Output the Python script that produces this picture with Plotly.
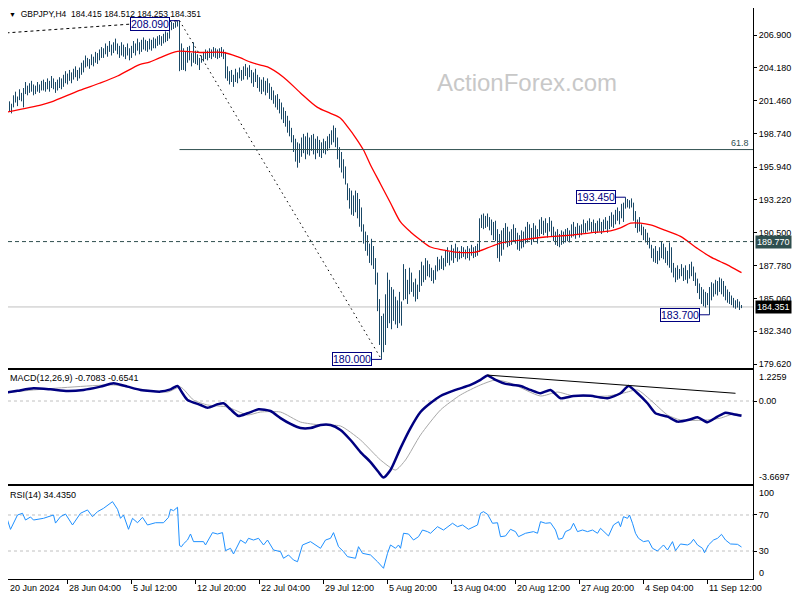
import plotly.graph_objects as go

# ---------------- data ----------------
highs = [
    201.5, 201.3, 201.6, 201.4, 201.2, 201.9, 202.2, 201.8, 202.4, 202.1,
    202.5, 203.0, 202.7, 202.9, 203.1, 202.8, 202.7, 203.0, 202.8, 203.1,
    203.2, 203.0, 203.3, 203.1, 203.5, 203.3, 203.0, 203.2, 203.4, 203.3,
    203.6, 203.9, 203.7, 204.0, 203.8, 204.1, 204.3, 204.0, 204.2, 204.6,
    204.8, 205.2, 205.0, 204.9, 205.3, 205.1, 205.5, 205.4, 205.7, 205.9,
    205.8, 206.2, 206.0, 206.4, 206.1, 206.3, 206.6, 206.2, 206.0, 206.3,
    206.1, 205.9, 206.2, 205.8, 206.0, 206.4, 206.2, 206.6, 206.3, 206.5,
    206.7, 206.5, 206.4, 206.6, 206.5, 206.7, 206.6, 206.8, 206.9, 206.8,
    207.0, 207.2, 207.1, 208.0, 208.0, 207.9, 208.0, 208.05, 208.09, 206.2,
    205.8, 205.5, 205.9, 206.0, 205.4, 206.3, 205.6, 205.3, 205.0, 205.2,
    205.5, 205.7, 205.6, 205.8, 205.7, 205.9, 205.8, 205.7, 205.8, 205.9,
    205.7, 205.5, 204.3, 203.9, 204.0, 203.6, 204.1, 203.8, 204.2, 204.0,
    204.3, 204.5, 204.2, 204.4, 204.0, 203.8, 204.1, 203.6, 203.4, 203.2,
    203.4, 203.1, 203.3, 202.9, 202.6, 202.3, 201.9, 202.0, 201.6, 201.3,
    200.9, 200.6, 200.2, 199.8, 199.2, 198.6, 198.3, 198.0, 197.9, 198.4,
    198.7, 198.5, 198.8, 198.4, 198.6, 198.7, 198.3, 198.5, 198.2, 198.0,
    198.3, 198.1, 198.5, 198.7, 199.0, 199.4, 199.2, 198.4, 197.6, 197.2,
    196.6, 196.0, 194.6, 194.2, 194.0, 193.6, 194.0, 193.8, 193.3, 192.6,
    191.2, 190.6, 190.3, 189.6, 190.0, 189.4, 188.4, 187.2, 185.0, 183.6,
    183.8, 185.4, 187.2, 186.6, 186.0, 185.8, 185.2, 184.9, 185.6, 184.8,
    187.9, 187.5, 186.6, 187.6, 187.2, 186.4, 186.7, 186.2, 187.4, 188.1,
    187.8, 188.4, 188.2, 187.9, 187.6, 187.4, 187.8, 188.5, 188.3, 188.6,
    188.4, 189.0, 189.3, 188.9, 189.5, 189.2, 189.6, 189.3, 189.0, 189.4,
    189.3, 189.1, 189.4, 189.2, 189.5, 189.3, 189.4, 189.6, 191.7, 192.0,
    192.1, 191.9, 192.1, 191.8, 191.6, 191.4, 191.5, 190.8, 190.4, 190.7,
    190.9, 191.3, 191.0, 190.6, 190.8, 191.2, 190.9, 190.5, 190.3, 190.7,
    190.6, 191.0, 191.4, 191.2, 190.9, 191.3, 191.1, 190.8, 191.6, 191.8,
    191.5, 191.7, 191.3, 191.8, 191.5, 191.0, 190.6, 190.8, 190.4, 190.7,
    190.6, 190.8, 190.9, 190.7, 191.2, 191.4, 191.0, 191.3, 191.1, 191.2,
    191.6, 191.3, 191.5, 191.7, 191.4, 191.6, 191.3, 191.5, 191.7, 191.4,
    191.6, 191.8, 191.5, 191.9, 192.2, 192.0, 192.4, 192.6, 192.3, 192.9,
    193.0, 193.45, 193.3, 193.2, 193.35, 193.0, 192.3, 191.6, 191.8, 191.2,
    191.0, 190.8, 190.5, 190.1, 189.5, 189.2, 189.4, 189.0, 189.3, 189.8,
    189.6, 189.3, 189.0, 189.7, 189.3, 188.0, 187.6, 187.8, 187.5, 187.9,
    187.6, 187.8, 187.4, 187.9, 188.1, 187.7, 187.2, 186.7, 186.3, 186.0,
    185.8, 185.6, 185.5, 186.0, 186.4, 186.3, 186.6, 186.5, 186.8, 186.7,
    186.5, 186.1, 185.8, 185.6, 185.3, 185.1, 184.9, 185.0, 184.8, 184.512,
]
lows = [
    200.6, 200.8, 200.9, 200.6, 200.4, 200.9, 201.3, 201.0, 201.5, 201.4,
    200.9, 202.0, 201.9, 202.1, 202.2, 201.9, 202.0, 202.2, 202.1, 202.3,
    202.3, 202.2, 202.4, 202.2, 202.5, 202.4, 202.1, 202.3, 202.5, 202.4,
    202.6, 202.9, 202.8, 203.1, 202.9, 203.2, 203.4, 203.1, 203.3, 203.6,
    203.8, 204.2, 204.3, 204.1, 204.4, 204.3, 204.6, 204.5, 204.8, 205.0,
    205.0, 205.3, 205.1, 205.5, 205.2, 205.4, 205.6, 205.3, 205.0, 205.2,
    205.1, 204.9, 205.2, 204.8, 205.0, 205.4, 205.2, 205.6, 205.3, 205.5,
    205.7, 205.6, 205.5, 205.7, 205.6, 205.8, 205.8, 206.0, 206.1, 206.0,
    206.2, 206.3, 206.4, 206.6, 207.3, 207.4, 207.5, 207.6, 203.9, 204.0,
    204.0, 203.9, 204.6, 204.8, 204.3, 204.6, 204.5, 204.4, 204.0, 204.6,
    204.7, 204.9, 204.8, 205.0, 204.9, 205.1, 205.0, 204.9, 205.0, 205.1,
    204.9, 203.3, 203.1, 202.8, 203.0, 202.6, 203.0, 202.9, 203.3, 203.1,
    203.2, 203.5, 203.2, 203.4, 202.9, 202.6, 203.0, 202.5, 202.2, 202.0,
    202.2, 201.9, 202.1, 201.6, 201.5, 201.2, 200.9, 200.7, 200.4, 199.9,
    199.6, 199.3, 198.8, 198.5, 198.0, 197.2, 196.4, 195.9, 196.3, 196.8,
    197.1, 196.6, 197.0, 196.9, 197.3, 197.0, 196.6, 197.1, 196.8, 196.7,
    197.1, 197.0, 197.3, 197.5, 197.8, 198.0, 197.6, 196.6, 195.9, 195.5,
    195.0, 194.5, 193.2, 192.5, 192.0, 191.9, 192.2, 191.7, 191.0, 190.6,
    189.6, 189.0, 188.6, 188.0, 187.8, 187.5, 186.2, 184.0, 181.2, 180.0,
    180.6, 181.2, 182.6, 183.0, 182.5, 183.2, 182.9, 182.6, 183.0, 182.8,
    184.9, 185.0, 184.6, 185.4, 185.6, 185.2, 184.8, 185.0, 185.6, 186.1,
    186.4, 186.6, 186.9, 186.8, 186.5, 186.3, 186.6, 187.3, 187.4, 187.5,
    187.4, 187.7, 188.0, 187.8, 188.2, 188.0, 188.4, 188.1, 188.3, 188.4,
    188.5, 188.3, 188.4, 188.2, 188.6, 188.4, 188.5, 188.6, 188.9, 190.9,
    190.8, 190.9, 191.0, 190.7, 190.3, 189.9, 189.8, 188.4, 188.1, 188.6,
    189.1, 189.6, 189.3, 189.4, 189.5, 189.8, 189.6, 189.1, 189.0, 189.2,
    189.3, 189.6, 189.7, 189.9, 189.5, 189.8, 190.0, 189.6, 190.2, 190.4,
    190.3, 190.5, 190.1, 190.6, 190.2, 189.8, 189.5, 189.4, 189.3, 189.5,
    189.6, 189.7, 189.8, 189.7, 190.1, 190.2, 190.0, 190.3, 190.1, 190.3,
    190.5, 190.4, 190.6, 190.7, 190.5, 190.6, 190.4, 190.5, 190.6, 190.4,
    190.6, 190.8, 190.5, 190.8, 191.0, 190.9, 191.2, 191.5, 191.2, 191.7,
    191.4, 192.5, 192.6, 192.5, 192.6, 191.5, 190.9, 190.5, 190.6, 190.3,
    189.9, 189.7, 189.5, 189.2, 188.4, 188.1, 188.0, 187.9, 188.2, 188.4,
    188.3, 188.0, 187.8, 187.6, 187.2, 186.8, 186.4, 186.6, 186.7, 186.9,
    186.5, 186.6, 186.3, 186.7, 186.9, 186.5, 186.1, 185.5, 185.0, 184.6,
    184.4, 184.3, 184.5, 183.7, 184.9, 185.2, 185.4, 185.3, 185.6, 185.4,
    185.2, 184.9, 184.7, 184.6, 184.5, 184.3, 184.2, 184.3, 184.1, 184.253,
]

ma_idx = [0, 19, 24, 38, 48, 57, 68, 73, 78, 87,
          98.5, 110, 117, 123.5, 128.5, 132, 140, 148.5, 157, 163.5,
          168.5, 172, 176, 180, 183.5, 188.5, 193.5, 198.5, 203.5, 208.5,
          213.5, 220, 226, 236, 242, 248.5, 258.5, 271, 283.5, 293.5,
          303.5, 308.5, 313.5, 318.5, 323.5, 331, 338.5, 347, 353.5, 358.5,
          363.5, 369]
ma_val = [200.45, 201.1, 201.35, 202.3, 202.9, 203.5, 204.45, 204.65, 205.0, 205.55,
          205.45, 205.45, 205.1, 204.65, 204.4, 204.25, 203.4, 202.1, 200.9, 200.4,
          200.0, 199.3, 198.4, 197.36, 196.12, 194.55, 192.97, 191.4, 190.57, 189.9,
          189.32, 189.07, 188.9, 188.9, 189.24, 189.65, 189.9, 190.15, 190.3, 190.5,
          190.65, 190.9, 191.3, 191.3, 191.15, 190.7, 190.2, 189.2, 188.5, 188.1,
          187.7, 187.2]

macd_idx = [0, 7, 15, 23.5, 32, 40, 48.5, 55, 62, 68.5,
            78.5, 83.5, 87, 89.5, 92, 98.5, 102, 107, 110, 113.5,
            117.5, 122, 127.5, 133.5, 138.5, 143.5, 148.5, 153.5, 158.5, 163.5,
            168.5, 173.5, 178.5, 183.5, 187.5, 190, 193.5, 198.5, 203.5, 208.5,
            213.5, 218.5, 226, 233.5, 238.5, 242, 246, 251, 258.5, 263.5,
            268.5, 273.5, 278.5, 285, 293.5, 302, 308.5, 312.5, 317, 322,
            326, 332, 337, 343.5, 347, 352, 357, 361, 365, 369]
macd_val = [0.38, 0.49, 0.61, 0.56, 0.48, 0.53, 0.69, 0.85, 0.69, 0.53,
            0.45, 0.56, 0.72, 0.37, 0.05, -0.19, -0.32, -0.16, -0.11, -0.40,
            -0.72, -0.59, -0.40, -0.48, -0.82, -1.10, -1.30, -1.30, -1.15, -1.15,
            -1.39, -1.87, -2.45, -2.93, -3.41, -3.67, -3.31, -2.26, -1.30, -0.53,
            -0.10, 0.24, 0.53, 0.77, 1.01, 1.2259, 1.01, 0.82, 0.72, 0.53,
            0.37, 0.53, 0.13, 0.24, 0.25, 0.13, 0.37, 0.72, 0.37, -0.11,
            -0.59, -0.75, -0.99, -0.88, -0.78, -1.02, -0.75, -0.56, -0.64, -0.7083]

sig_idx = [0, 15, 55, 65, 82, 88.5, 95, 102, 112, 122,
           128.5, 138.5, 148.5, 158.5, 168.5, 178.5, 188.5, 196, 201, 208.5,
           218.5, 228.5, 238.5, 246, 253.5, 268.5, 277, 285, 302, 310,
           317, 323.5, 332, 338.5, 352, 358.5, 365, 369]
sig_val = [0.38, 0.53, 0.77, 0.62, 0.43, 0.67, 0.05, -0.19, -0.29, -0.67,
           -0.53, -0.53, -1.01, -1.15, -1.20, -1.87, -2.83, -3.31, -2.83, -1.63,
           -0.43, 0.29, 0.77, 1.01, 0.86, 0.24, 0.43, 0.24, 0.24, 0.38,
           0.53, 0.05, -0.67, -0.91, -0.91, -0.82, -0.62, -0.6541]

rsi_idx = [0, 2, 3.5, 5, 7, 9.5, 11, 13.5, 15, 20,
           25, 26, 28.5, 31, 34.5, 38.5, 42, 44.5, 47, 50,
           54.5, 57, 58.5, 60, 62.5, 64.5, 67, 69.5, 72, 76,
           80, 82.5, 83.5, 85, 87, 88, 89, 90, 92, 93.5,
           95, 100, 101, 104.5, 107, 109.5, 111, 113.5, 115, 118.5,
           121, 122.5, 125, 127.5, 130, 132, 135, 138.5, 140, 142.5,
           145, 147, 149.5, 153.5, 156, 158.5, 161, 163.5, 165, 167.5,
           170, 172, 176, 177.5, 179.5, 183.5, 187, 190, 192, 193.5,
           196, 197.5, 198.5, 200, 202.5, 205, 207.5, 209.5, 212, 213.5,
           217, 220, 224.5, 227, 229.5, 232.5, 237, 238.5, 240, 242,
           244.5, 247, 248.5, 251, 253.5, 256, 257.5, 261, 265, 267,
           268.5, 271, 273.5, 276, 277.5, 279.5, 281, 283.5, 285, 287,
           289.5, 292, 294.5, 297, 298.5, 301, 302.5, 305, 307.5, 308.5,
           310, 312, 313, 314.5, 316, 317.5, 320, 322.5, 324.5, 327,
           328.5, 330, 332, 334.5, 336, 338.5, 342, 343.5, 345, 347,
           349.5, 350.5, 352.5, 355, 357, 359, 361, 363.5, 367, 369]
rsi_val = [62.6, 64.4, 54.0, 60.7, 70.0, 71.9, 64.4, 67.8, 64.4, 66.3,
           70.0, 61.0, 68.1, 71.1, 58.9, 71.9, 75.6, 68.1, 73.7, 77.4,
           84.8, 76.3, 66.3, 70.0, 54.1, 66.3, 61.4, 67.4, 58.9, 61.4,
           61.4, 67.4, 76.3, 74.8, 78.6, 36.0, 34.8, 38.0, 42.2, 48.9,
           40.4, 40.4, 36.7, 50.4, 48.9, 50.4, 30.4, 33.0, 26.7, 42.2,
           38.5, 44.1, 42.2, 44.1, 36.7, 42.2, 31.1, 29.3, 21.9, 25.6,
           20.0, 18.1, 36.7, 40.4, 36.7, 33.0, 42.2, 44.1, 50.4, 34.8,
           29.3, 23.7, 21.9, 34.8, 27.4, 25.6, 18.1, 10.8, 27.4, 36.7,
           33.0, 36.7, 33.0, 49.7, 48.9, 42.2, 45.9, 53.3, 51.5, 49.7,
           57.0, 53.3, 60.8, 57.0, 58.9, 54.1, 58.9, 71.9, 73.7, 70.8,
           60.8, 61.4, 45.9, 46.7, 54.1, 51.5, 45.9, 49.7, 51.5, 49.7,
           62.6, 60.8, 61.4, 53.3, 43.0, 44.1, 51.5, 54.1, 60.8, 51.5,
           53.3, 51.5, 53.3, 49.7, 55.2, 49.7, 46.7, 58.9, 62.6, 57.0,
           68.1, 66.3, 70.0, 60.8, 49.7, 44.1, 40.4, 41.5, 33.0, 30.0,
           33.0, 36.7, 31.1, 40.4, 30.4, 37.8, 36.7, 38.5, 43.0, 36.7,
           33.0, 28.1, 36.7, 42.2, 44.1, 48.5, 42.2, 37.8, 37.4, 34.435]

xtick_idx = [0, 32, 64, 96, 128, 160, 192, 224, 256, 288, 320, 352]
xtick_lbl = ["20 Jun 2024", "28 Jun 04:00", "5 Jul 12:00", "12 Jul 20:00",
             "22 Jul 04:00", "29 Jul 12:00", "5 Aug 20:00", "13 Aug 04:00",
             "20 Aug 12:00", "27 Aug 20:00", "4 Sep 04:00", "11 Sep 12:00"]
price_ticks = [206.90, 204.18, 201.46, 198.74, 195.94, 193.22,
               190.50, 187.78, 185.06, 182.34, 179.62]

swing_idx = [88, 311, 353, 189]
swing_price = [208.09, 193.45, 183.70, 180.00]
trend_left_idx, trend_left_val = -1.5, 207.04   # dashed line start (left edge)
fib_level, fib_label = 197.40, "61.8"
res_level = 189.77
last_price = 184.351
macd_trend_idx = [242, 366]
macd_trend_val = [1.243, 0.37]
rsi_levels = [70, 30]
ohlc_text = "184.415 184.512 184.253 184.351"
macd_text = "MACD(12,26,9) -0.7083 -0.6541"
rsi_text = "RSI(14) 34.4350"

# ---------------- figure ----------------
# The page body adds an 8px offset, so the figure is 792x592 and every
# pixel position below is given in page pixels and converted.
OFF = 8
W, H = 800 - OFF, 600 - OFF
FONT = "Liberation Sans, Arial, sans-serif"
BAR = "#1a4866"
SLATE = "#2f4f4f"
NAVY = "#000080"


def px(X):
    return (X - OFF) / W


def py(Y):
    return 1 - (Y - OFF) / H


def vdom(top, bottom):
    return [py(bottom), py(max(top, OFF))]


bx, by = [], []
for i, (hi, lo) in enumerate(zip(highs, lows)):
    bx += [i, i, None]
    by += [lo, hi, None]

fig = go.Figure()
fig.add_trace(go.Scatter(x=bx, y=by, mode="lines", line=dict(color=BAR, width=1),
                         xaxis="x", yaxis="y", hoverinfo="skip"))
fig.add_trace(go.Scatter(x=ma_idx, y=ma_val, mode="lines",
                         line=dict(color="#ff0000", width=1.3, shape="spline", smoothing=0.8),
                         xaxis="x", yaxis="y"))
fig.add_trace(go.Scatter(x=sig_idx, y=sig_val, mode="lines",
                         line=dict(color="#a8a8a8", width=1, shape="spline", smoothing=0.6),
                         xaxis="x2", yaxis="y2"))
fig.add_trace(go.Scatter(x=macd_idx, y=macd_val, mode="lines",
                         line=dict(color=NAVY, width=2.5, shape="spline", smoothing=0.6),
                         xaxis="x2", yaxis="y2"))
fig.add_trace(go.Scatter(x=macd_trend_idx, y=macd_trend_val, mode="lines",
                         line=dict(color="black", width=1), xaxis="x2", yaxis="y2"))
fig.add_trace(go.Scatter(x=rsi_idx, y=rsi_val, mode="lines",
                         line=dict(color="#1e90ff", width=1), xaxis="x3", yaxis="y3"))

# bar i sits at page x = 3.5 + 2*i ; plot spans page x 8 .. 753
xr = [(OFF - 3.5) / 2, (753 - 3.5) / 2]
xdom = [0, px(753)]
common_x = dict(domain=xdom, range=xr, showgrid=False, zeroline=False, showline=True,
                linecolor="black", linewidth=1, fixedrange=True)
common_y = dict(side="right", showgrid=False, zeroline=False, showline=True, mirror=True,
                linecolor="black", linewidth=1, ticks="outside", ticklen=3,
                tickcolor="black", tickfont=dict(family=FONT, size=9, color="black"),
                fixedrange=True)

# price scale: page y = 35 + (206.9 - p) * 12.06
SC = 12.06
ytop = 206.9 + (35 - OFF) / SC
ybot = 206.9 - (368 - 35) / SC

fig.update_layout(
    width=W, height=H, margin=dict(l=0, r=0, t=0, b=0),
    paper_bgcolor="white", plot_bgcolor="white", showlegend=False,
    xaxis=dict(**common_x, anchor="y", mirror=False, showticklabels=False),
    xaxis2=dict(**common_x, anchor="y2", mirror=True, matches="x", showticklabels=False),
    xaxis3=dict(**common_x, anchor="y3", mirror=True, matches="x", showticklabels=False,
                ticks="outside", ticklen=4, tickcolor="black", tickvals=xtick_idx),
    yaxis=dict(**common_y, domain=vdom(OFF, 368), anchor="x", range=[ybot, ytop],
               tickvals=price_ticks, ticktext=[f"{v:.3f}" for v in price_ticks]),
    yaxis2=dict(**common_y, domain=vdom(370, 484), anchor="x2", range=[-3.983, 1.4875],
                tickvals=[0], ticktext=["0.00"]),
    yaxis3=dict(**common_y, domain=vdom(486, 579), anchor="x3", range=[-1.1, 102.2],
                tickvals=rsi_levels, ticktext=[str(v) for v in rsi_levels]),
)

shapes = []
shapes.append(dict(type="line", xref="x", yref="y", x0=trend_left_idx, y0=trend_left_val,
                   x1=swing_idx[0], y1=swing_price[0],
                   line=dict(color="black", width=1, dash="3px,3px")))
shapes.append(dict(type="line", xref="x", yref="y", x0=swing_idx[0], y0=swing_price[0],
                   x1=swing_idx[3], y1=swing_price[3],
                   line=dict(color="black", width=1, dash="1.5px,3.5px")))
shapes.append(dict(type="line", xref="x", yref="y", x0=swing_idx[0], y0=fib_level,
                   x1=xr[1], y1=fib_level, line=dict(color=SLATE, width=1)))
shapes.append(dict(type="line", xref="x domain", yref="y", x0=0, y0=res_level,
                   x1=1, y1=res_level, line=dict(color=SLATE, width=1, dash="4px,3px")))
shapes.append(dict(type="line", xref="x domain", yref="y", x0=0, y0=last_price,
                   x1=1, y1=last_price, layer="below", line=dict(color="#c0c0c0", width=1)))
shapes.append(dict(type="line", xref="x2 domain", yref="y2", x0=0, y0=0, x1=1, y1=0,
                   layer="below", line=dict(color="#c0c0c0", width=1, dash="3px,3px")))
for lv in rsi_levels:
    shapes.append(dict(type="line", xref="x3 domain", yref="y3", x0=0, y0=lv, x1=1, y1=lv,
                       layer="below", line=dict(color="#c0c0c0", width=1, dash="3px,3px")))

ann = []
for k, (idx, p) in enumerate(zip(swing_idx, swing_price)):
    shapes.append(dict(type="line", xref="x", yref="y", x0=idx - 5, y0=p, x1=idx, y1=p,
                       line=dict(color=NAVY, width=1)))
    ann.append(dict(xref="x", yref="y", x=idx - 5, y=p, xanchor="right", yanchor="middle",
                    yshift=-3 if k == 0 else 0,
                    text=f"{p:.3f}", showarrow=False, bgcolor="white", bordercolor=NAVY,
                    borderwidth=1, borderpad=0,
                    font=dict(family=FONT, size=10.5, color=NAVY)))
fig.update_layout(shapes=shapes)

ann.append(dict(xref="paper", yref="y", x=px(751), y=fib_level, xanchor="right",
                yanchor="bottom", text=fib_label, showarrow=False,
                font=dict(family=FONT, size=9, color=SLATE)))
ann.append(dict(xref="paper", yref="y", x=px(755), y=res_level, xanchor="left",
                yanchor="middle", text=f"{res_level:.3f}", showarrow=False,
                bgcolor=SLATE, borderpad=1, font=dict(family=FONT, size=9, color="white")))
ann.append(dict(xref="paper", yref="y", x=px(755), y=last_price, xanchor="left",
                yanchor="middle", text=f"{last_price:.3f}", showarrow=False,
                bgcolor="black", borderpad=1, font=dict(family=FONT, size=9, color="white")))

ann.append(dict(xref="paper", yref="paper", x=px(8), y=py(OFF), xanchor="left",
                yanchor="top", showarrow=False, borderpad=0,
                text="<span style='font-size:7px'>▼</span>  GBPJPY,H4  " + ohlc_text,
                font=dict(family=FONT, size=8.5, color="black")))
ann.append(dict(xref="paper", yref="paper", x=px(8), y=py(378), xanchor="left",
                yanchor="middle", showarrow=False, text=macd_text,
                font=dict(family=FONT, size=9, color="black")))
ann.append(dict(xref="paper", yref="paper", x=px(8), y=py(495), xanchor="left",
                yanchor="middle", showarrow=False, text=rsi_text,
                font=dict(family=FONT, size=9, color="black")))
ann.append(dict(xref="paper", yref="paper", x=px(527), y=py(82), xanchor="center",
                yanchor="middle", showarrow=False, text="ActionForex.com",
                font=dict(family=FONT, size=24, color="#c8c8c8")))
for txt, ypx in [("1.2259", 377), ("-3.6697", 477), ("100", 493), ("0", 573)]:
    ann.append(dict(xref="paper", yref="paper", x=px(757), y=py(ypx), xanchor="left",
                    yanchor="middle", showarrow=False, text=txt,
                    font=dict(family=FONT, size=9, color="black")))
for idx, lbl in zip(xtick_idx, xtick_lbl):
    ann.append(dict(xref="x3", yref="paper", x=max(idx - 0.3, xr[0]), y=py(588),
                    xanchor="left", yanchor="middle", showarrow=False, text=lbl,
                    font=dict(family=FONT, size=9, color="black")))

fig.update_layout(annotations=ann)
fig.write_html("out.html")
